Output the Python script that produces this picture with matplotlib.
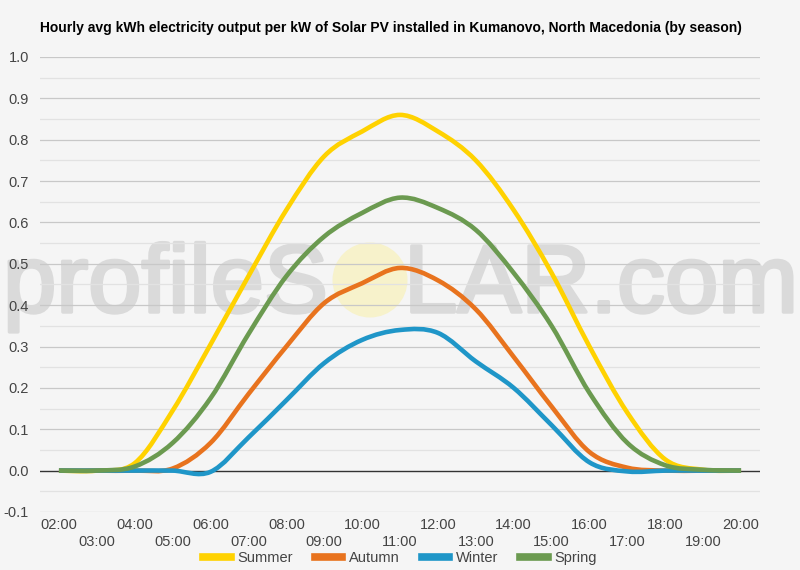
import numpy as np
import matplotlib.pyplot as plt
import matplotlib.patheffects as pe
from matplotlib.path import Path
from matplotlib.patches import PathPatch, Ellipse
from matplotlib.lines import Line2D

# ==========================
# DATA (hourly avg kWh per kW)
# ==========================
hours = list(range(2, 21))
hour_labels = [f"{h:02d}:00" for h in hours]

summer = [0.0, 0.0, 0.018, 0.145, 0.305, 0.47, 0.63, 0.76, 0.82, 0.86, 0.82, 0.75, 0.63, 0.478, 0.30, 0.14, 0.027, 0.002, 0.0]
autumn = [0.0, 0.0, 0.0, 0.005, 0.067, 0.185, 0.30, 0.405, 0.453, 0.49, 0.46, 0.39, 0.275, 0.155, 0.045, 0.007, 0.0, 0.0, 0.0]
winter = [0.0, 0.0, 0.0, 0.0, -0.003, 0.08, 0.17, 0.26, 0.316, 0.34, 0.333, 0.264, 0.20, 0.11, 0.02, -0.002, 0.0, 0.0, 0.0]
spring = [0.0, 0.0, 0.01, 0.067, 0.175, 0.33, 0.47, 0.566, 0.623, 0.66, 0.635, 0.582, 0.478, 0.35, 0.188, 0.067, 0.013, 0.002, 0.0]

series = [
    ("Summer", summer, "#ffd200"),
    ("Autumn", autumn, "#e8731e"),
    ("Winter", winter, "#1f96c8"),
    ("Spring", spring, "#6b9a50"),
]

TITLE = "Hourly avg kWh electricity output per kW of Solar PV installed in Kumanovo, North Macedonia (by season)"
BG = "#f5f5f5"


def smooth_path(x, y, k=0.5):
    """Catmull-Rom style cubic bezier path through the points (like curveType='function')."""
    x = np.asarray(x, float)
    y = np.asarray(y, float)
    verts = [(x[0], y[0])]
    codes = [Path.MOVETO]
    n = len(x)
    for i in range(n - 1):
        p0 = i - 1 if i > 0 else i
        p3 = i + 2 if i + 2 < n else i + 1
        c1 = (x[i] + (x[i + 1] - x[p0]) * k / 3, y[i] + (y[i + 1] - y[p0]) * k / 3)
        c2 = (x[i + 1] - (x[p3] - x[i]) * k / 3, y[i + 1] - (y[p3] - y[i]) * k / 3)
        verts += [c1, c2, (x[i + 1], y[i + 1])]
        codes += [Path.CURVE4] * 3
    return Path(verts, codes)


plt.rcParams["font.family"] = ["Liberation Sans", "DejaVu Sans"]

fig = plt.figure(figsize=(8, 5.7), dpi=100, facecolor=BG)
ax = fig.add_axes([0.05, 0.1018, 0.90, 0.7982])
ax.patch.set_alpha(0)

# watermark (behind the axes content)
wm = dict(fontsize=69, color="#dadada", va="baseline", zorder=-2,
          path_effects=[pe.withStroke(linewidth=2.5, foreground="#dadada")])
fig.text(328 / 800, 1 - 312 / 570, "profileS", ha="right", **wm)
fig.text(404 / 800, 1 - 312 / 570, "LAR.com", ha="left", **wm)
fig.patches.append(Ellipse((370 / 800, 1 - 280 / 570), 75 / 800, 75 / 570,
                           transform=fig.transFigure, facecolor="#f7f2cb",
                           edgecolor="none", zorder=-2))

# grid
ax.set_ylim(-0.1, 1.0)
ax.set_xlim(1.5, 20.5)
yt = np.round(np.arange(-0.1, 1.01, 0.1), 2)
ax.set_yticks(yt)
ax.set_yticklabels([f"{v:.1f}" for v in yt])
for v in np.arange(-0.05, 1.0, 0.1):
    ax.axhline(v, color="#e2e2e2", lw=0.9, zorder=1)
for v in yt:
    if abs(v) > 1e-9:
        ax.axhline(v, color="#c8c8c8", lw=0.9, zorder=1)
ax.axhline(0, color="#333333", lw=1.0, zorder=2)

for name, vals, col in series:
    ax.add_patch(PathPatch(smooth_path(hours, vals), facecolor="none",
                           edgecolor=col, lw=3.3, capstyle="butt", zorder=3))

for s in ax.spines.values():
    s.set_visible(False)

ax.set_xticks(hours[::2])
ax.set_xticklabels(hour_labels[::2])
ax.set_xticks(hours[1::2], minor=True)
ax.set_xticklabels(hour_labels[1::2], minor=True)
ax.tick_params(axis="x", which="major", length=0, pad=4, labelsize=10.5, labelcolor="#444444")
ax.tick_params(axis="x", which="minor", length=0, pad=16.5, labelsize=10.5, labelcolor="#444444")
ax.tick_params(axis="y", length=0, pad=8, labelsize=10.5, labelcolor="#444444")

fig.text(40 / 800, 1 - 28 / 570, TITLE, fontsize=10, fontweight="bold",
         color="#000000", ha="left", va="center")

handles = [Line2D([], [], color=c, lw=5.5) for _, _, c in series]
fig.legend(handles, [n for n, _, _ in series], loc="center", ncol=4,
           bbox_to_anchor=(0.5, 1 - 558 / 570), frameon=False, fontsize=10.5,
           handlelength=1.9, columnspacing=1.5, handletextpad=0.45,
           labelcolor="#444444")

fig.savefig("out.png", dpi=100, facecolor=BG)
